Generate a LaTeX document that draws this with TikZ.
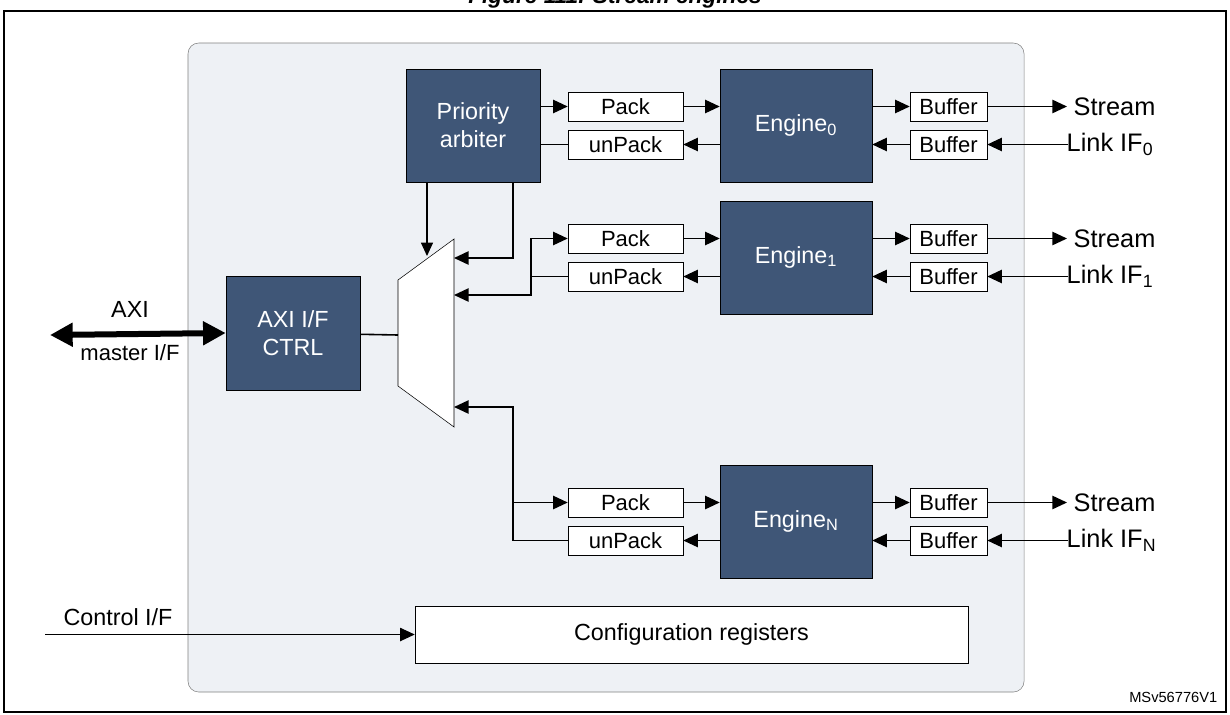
\documentclass[tikz,border=0pt]{standalone}
\usepackage{fontspec}
\setmainfont{Liberation Sans}
\usetikzlibrary{arrows.meta,positioning,calc}
\definecolor{engblue}{HTML}{3F5677}
\definecolor{panel}{HTML}{EEF1F5}
\tikzset{
  dark/.style={draw=black, fill=engblue, text=white, font=\fontsize{17.5}{21}\selectfont, align=center, inner sep=0pt},
  small/.style={draw=black, fill=white, font=\fontsize{16.5}{19}\selectfont, minimum height=21.5pt, inner sep=0pt},
  arr/.style={-{Triangle[length=11pt,width=10pt]}, line width=1.2pt},
  plain/.style={line width=1.2pt}
}
\begin{document}
\begin{tikzpicture}[x=0.75pt,y=-0.75pt]
        \useasboundingbox (0,0) rectangle (1230,714);
        \node[font=\bfseries\itshape\fontsize{17}{20}\selectfont] (title) at (615,-2) {Figure 111. Stream engines};
        \draw[line width=1.5pt] (4,11) rectangle (1226,712);
        \draw[draw=gray, fill=panel, rounded corners=8pt] (188,43) rectangle (1024,692);

        % blocks
        \node[dark, minimum width=100.5pt, minimum height=84.75pt] (arb) at (473,125.5) {Priority\\arbiter};
        \node[dark, minimum width=100.5pt, minimum height=85.5pt] (axi) at (293,333) {AXI I/F\\CTRL};
        \node[dark, minimum width=114pt, minimum height=84.75pt] (eng0) at (796,125.5) {Engine\textsubscript{0}};
        \node[dark, minimum width=114pt, minimum height=84.75pt] (eng1) at (796,257.5) {Engine\textsubscript{1}};
        \node[dark, minimum width=114pt, minimum height=84.75pt] (engN) at (796,521.5) {Engine\textsubscript{N}};
        \draw[fill=white] (398,280) coordinate (mtl) -- (454,239) coordinate (mtr) -- (454,427) coordinate (mbr) -- (398,386) coordinate (mbl) -- cycle;
        \coordinate (mux) at (398,335);

        % pack, unpack, buffers
        \foreach \n/\y in {0/106.5, 1/238.5, N/502.5} {
          \node[small, minimum width=86.25pt] (pk\n) at (625.5,\y) {Pack};
          \node[small, minimum width=86.25pt] (up\n) at (625.5,\y+38) {unPack};
          \node[small, minimum width=57.75pt] (bo\n) at (948.5,\y) {Buffer};
          \node[small, minimum width=57.75pt] (bi\n) at (948.5,\y+38) {Buffer};
          \node[font=\fontsize{19}{22}\selectfont, anchor=west] (st\n) at (1069,\y) {Stream};
          \node[font=\fontsize{19}{22}\selectfont, anchor=west] (lk\n) at (1062,\y+38) {Link IF\textsubscript{\n}};
          \coordinate (so\n) at (1067,\y);
          \coordinate (si\n) at (1068,\y+38);
          \draw[arr] (pk\n) -- (pk\n -| eng\n.west);
          \draw[arr] (up\n -| eng\n.west) -- (up\n);
          \draw[arr] (bo\n -| eng\n.east) -- (bo\n);
          \draw[arr] (bi\n) -- (bi\n -| eng\n.east);
          \draw[arr] (bo\n) -- (so\n);
          \draw[arr] (si\n) -- (bi\n);
        }

        % arbiter and mux wiring
        \draw[arr] (pk0 -| arb.east) -- (pk0);
        \draw[plain] (up0) -- (up0 -| arb.east);
        \draw[-{Triangle[length=10pt,width=9pt]}, line width=0.8pt] (427,182) -- (427,256);
        \draw[arr] (513,182) -- (513,258) -- (454,258);
        \draw[plain] (up1.west) -- (531,276.5);
        \draw[arr] (531,295) -- (531,238.5) -- (pk1.west);
        \draw[arr] (531,276) -- (531,295) -- (454,295);
        \draw[arr] (513,502.5) -- (513,407) -- (454,407);
        \draw[arr] (513,502.5) -- (pkN.west);
        \draw[plain] (upN.west) -- (513,540.5) -- (513,502.5);
        \draw[plain] (axi) -- (mux);

        % AXI master port
        \coordinate (axiext) at (50,335);
        \draw[{Triangle[length=17pt,width=17pt]}-{Triangle[length=17pt,width=17pt]}, line width=4.5pt] (axiext) -- (axi.west);
        \node[font=\fontsize{17.5}{21}\selectfont] (axilab) at (130,309) {AXI};
        \node[font=\fontsize{16.5}{19}\selectfont] (mstlab) at (130,353) {master I/F};

        % configuration
        \node[draw, fill=white, minimum width=414.75pt, minimum height=42.75pt, font=\fontsize{17.5}{21}\selectfont] (cfg) at (691.5,634.5) {Configuration registers};
        \coordinate (ctlext) at (45,634.5);
        \draw[arr, line width=0.9pt] (ctlext) -- (cfg.west);
        \node[font=\fontsize{17.5}{21}\selectfont] (ctllab) at (118,617) {Control I/F};
        \node[font=\fontsize{11}{13}\selectfont, anchor=east] (ref) at (1222,697) {MSv56776V1};
\end{tikzpicture}
\end{document}
